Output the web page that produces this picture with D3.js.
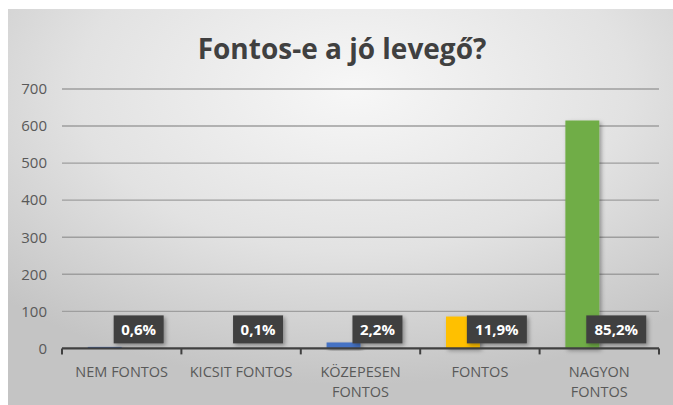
<!DOCTYPE html>
<html>
<head>
<meta charset="utf-8">
<script src="https://cdn.jsdelivr.net/npm/d3@7"></script>
<style>
  body { margin: 0; background: #fff; }
  svg { display: block; font-family: "Open Sans", "Noto Sans", sans-serif; }
</style>
</head>
<body>
<div id="chart"></div>
<script>
// Chart data
const categories = ["NEM FONTOS", "KICSIT FONTOS", "KÖZEPESEN FONTOS", "FONTOS", "NAGYON FONTOS"];
const counts = [4, 1, 16, 86, 615];
const percents = [0.6, 0.1, 2.2, 11.9, 85.2];
const barColors = ["#4472C4", "#4472C4", "#4472C4", "#FFC000", "#70AD47"];
const yTicks = [0, 100, 200, 300, 400, 500, 600, 700];

const width = 673, height = 405;

const svg = d3.select("#chart")
    .append("svg")
    .attr("width", width)
    .attr("height", height);

const defs = svg.append("defs");

// background gradient
const grad = defs.append("radialGradient")
    .attr("id", "bg")
    .attr("cx", "52%").attr("cy", "20%").attr("r", "75%");
grad.append("stop").attr("offset", "0%").attr("stop-color", "#f7f7f7");
grad.append("stop").attr("offset", "55%").attr("stop-color", "#e2e2e2");
grad.append("stop").attr("offset", "100%").attr("stop-color", "#c4c4c4");

const shadow = defs.append("filter").attr("id", "shadow")
    .attr("x", "-20%").attr("y", "-20%").attr("width", "150%").attr("height", "150%");
shadow.append("feDropShadow")
    .attr("dx", 2).attr("dy", 2).attr("stdDeviation", 2)
    .attr("flood-color", "#000").attr("flood-opacity", 0.35);

svg.append("rect")
    .attr("x", 8).attr("y", 9)
    .attr("width", width - 8).attr("height", height - 9)
    .attr("fill", "url(#bg)");

// Title
svg.append("text")
    .attr("x", 342)
    .attr("y", 59)
    .attr("text-anchor", "middle")
    .style("font-size", "28px")
    .style("font-weight", "bold")
    .attr("fill", "#404040")
    .text("Fontos-e a jó levegő?");

// Scales
const x = d3.scaleBand()
    .domain(categories)
    .range([62, 659])
    .padding(0);

const xSub = d3.scaleBand()
    .domain(["count", "pct"])
    .range([0, x.bandwidth()])
    .paddingInner(0)
    .paddingOuter(0.76);

const y = d3.scaleLinear()
    .domain([0, 700])
    .range([348.4, 89]);

// Gridlines
svg.append("g")
    .selectAll("line")
    .data(yTicks.slice(1))
    .enter()
    .append("line")
    .attr("x1", 62).attr("x2", 659)
    .attr("y1", d => y(d)).attr("y2", d => y(d))
    .attr("stroke", "#9e9e9e")
    .attr("stroke-width", 1.4);

// Y axis labels
const yAxis = svg.append("g")
    .attr("transform", "translate(62,0)")
    .call(d3.axisLeft(y).tickValues(yTicks).tickSize(0).tickPadding(15));
yAxis.select(".domain").remove();
yAxis.selectAll("text")
    .style("font-size", "15px")
    .style("font-family", "\"Open Sans\", sans-serif")
    .attr("fill", "#595959");

// Bars
svg.append("g")
    .selectAll("rect")
    .data(categories)
    .enter()
    .append("rect")
    .attr("x", d => x(d) + xSub("count"))
    .attr("y", (d, i) => y(counts[i]))
    .attr("width", xSub.bandwidth())
    .attr("height", (d, i) => y(0) - y(counts[i]))
    .attr("fill", (d, i) => barColors[i])
    .attr("filter", "url(#shadow)");

// X axis
const xAxis = svg.append("g")
    .attr("transform", `translate(0,${y(0)})`);
xAxis.append("line")
    .attr("x1", 62).attr("x2", 659)
    .attr("stroke", "#404040").attr("stroke-width", 2.2);
xAxis.selectAll(".tick-mark")
    .data(categories.concat([null]))
    .enter()
    .append("line")
    .attr("x1", (d, i) => d ? x(d) : x.range()[1])
    .attr("x2", (d, i) => d ? x(d) : x.range()[1])
    .attr("y1", 0).attr("y2", 6)
    .attr("stroke", "#404040").attr("stroke-width", 2);

// Category labels (wrapped)
const labelLines = categories.map(c => {
    const w = c.split(" ");
    return (c === "NEM FONTOS" || c === "KICSIT FONTOS") ? [c] : w;
});
svg.append("g")
    .selectAll("text")
    .data(categories)
    .enter()
    .append("text")
    .attr("text-anchor", "middle")
    .attr("fill", "#595959")
    .style("font-size", "14.5px")
    .each(function(d, i) {
        const t = d3.select(this);
        labelLines[i].forEach((line, j) => {
            t.append("tspan")
                .attr("x", x(d) + x.bandwidth() / 2)
                .attr("y", 377 + j * 20)
                .text(line);
        });
    });

// Percentage labels
const fmt = v => d3.format(".1f")(v).replace(".", ",") + "%";
const labels = svg.append("g")
    .selectAll("g")
    .data(categories)
    .enter()
    .append("g")
    .attr("transform", d => `translate(${x(d) + xSub("pct") + xSub.bandwidth() / 2},${y(0) - 19})`);

labels.each(function(d, i) {
    const g = d3.select(this);
    const txt = fmt(percents[i]);
    const w = txt.length * 10 + 10;
    g.append("rect")
        .attr("x", -w / 2).attr("y", -14)
        .attr("width", w).attr("height", 28)
        .attr("fill", "#404040")
        .attr("filter", "url(#shadow)");
    g.append("text")
        .attr("text-anchor", "middle")
        .attr("dy", "0.36em")
        .attr("fill", "#fff")
        .style("font-size", "15px")
        .style("font-weight", "bold")
        .text(txt);
});
</script>
</body>
</html>
